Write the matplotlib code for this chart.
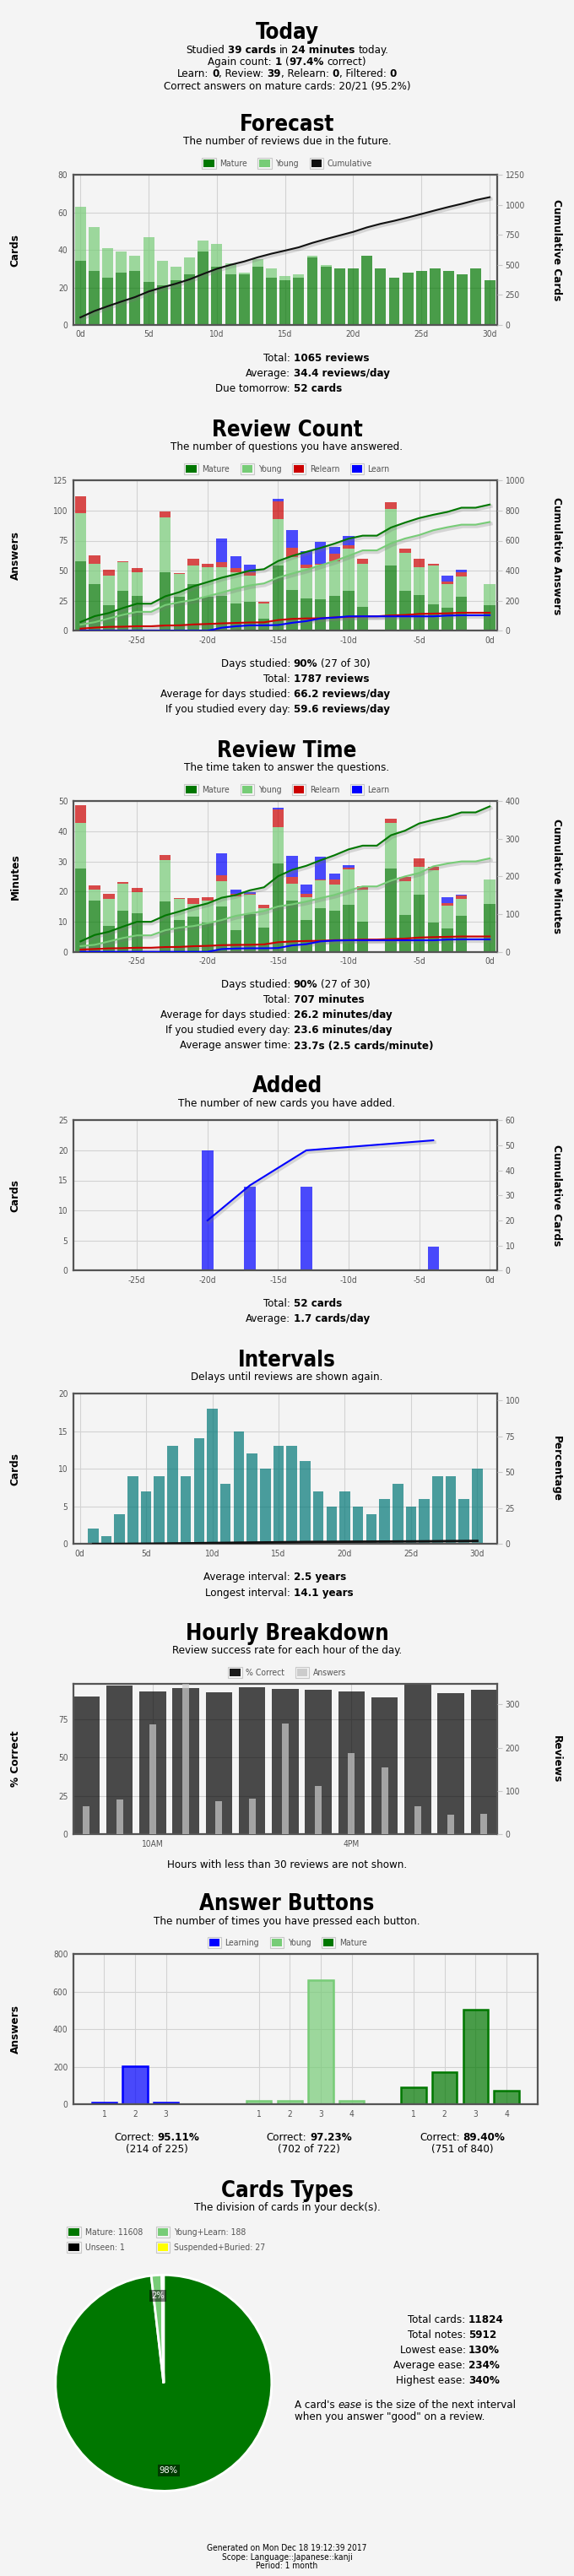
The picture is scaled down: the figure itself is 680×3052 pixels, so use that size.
import matplotlib
matplotlib.use('Agg')
import matplotlib.pyplot as plt
import matplotlib.patheffects as pe
from matplotlib.font_manager import FontProperties
from matplotlib.patches import Rectangle
from matplotlib.colors import to_rgba
import numpy as np

plt.rcParams['font.family'] = ['DejaVu Sans']
plt.rcParams['font.stretch'] = 'condensed'

# ---------------- data ----------------
# Forecast (days ahead)
fc_days = np.arange(0, 31)
fc_mature = [34, 29, 25, 28, 29, 23, 21, 24, 27, 39, 31, 27, 27, 31, 25, 24,
             25, 36, 31, 30, 30, 37, 30, 25, 28, 29, 30, 29, 27, 30, 24]
fc_young = [29, 23, 16, 11, 8, 24, 13, 7, 9, 6, 12, 6, 1, 4, 5, 2,
            2, 1, 1, 0, 0, 0, 0, 0, 0, 0, 0, 0, 0, 0, 0]

# Review count (days ago)
rc_days = np.arange(-29, 1)
rc_mature = [58, 39, 21, 33, 29, 0, 49, 28, 39, 28, 29, 23, 24, 10, 54,
             34, 27, 26, 29, 33, 20, 0, 54, 33, 30, 22, 19, 28, 0, 21]
rc_young = [40, 17, 25, 24, 20, 0, 45, 19, 15, 25, 24, 26, 22, 13, 39,
            27, 25, 29, 29, 35, 36, 0, 47, 32, 23, 32, 20, 17, 0, 18]
rc_relearn = [14, 7, 5, 1, 3, 0, 5, 1, 6, 3, 4, 3, 3, 1, 15,
              8, 3, 1, 6, 3, 4, 0, 6, 3, 7, 2, 2, 4, 0, 0]
rc_learn = [0, 0, 0, 0, 0, 0, 0, 0, 0, 0, 20, 10, 6, 0, 2,
            15, 11, 18, 6, 8, 0, 0, 0, 0, 0, 0, 5, 2, 0, 0]

# Review time in minutes (days ago)
rt_mature = [27.6, 17.1, 8.6, 13.6, 12.9, 0, 16.8, 10.6, 11.8, 9.6, 15.0, 7.2, 12.6, 8.0, 29.4,
             17.1, 10.6, 14.5, 13.6, 15.6, 9.9, 0, 27.6, 12.2, 19.1, 9.6, 7.8, 12.0, 0, 15.9]
rt_young = [15.1, 3.5, 9.0, 9.1, 7.0, 0, 13.6, 7.0, 4.1, 7.5, 8.4, 11.3, 6.4, 6.5, 12.0,
            5.6, 7.4, 9.1, 8.6, 11.8, 10.7, 0, 15.3, 11.3, 9.2, 17.5, 7.6, 5.6, 0, 8.1]
rt_relearn = [6.0, 1.5, 1.7, 0.5, 1.2, 0, 1.8, 0.3, 1.9, 0.9, 1.9, 0.7, 0.3, 1.0, 5.8,
              2.1, 1.2, 0.4, 1.7, 0.5, 1.2, 0, 1.3, 1.3, 2.7, 1.1, 0.8, 1.0, 0, 0]
rt_learn = [0, 0, 0, 0, 0, 0, 0, 0, 0, 0, 7.4, 1.4, 0.6, 0, 0.7,
            7.1, 3.1, 7.5, 2.1, 0.8, 0, 0, 0, 0, 0, 0, 1.8, 0.5, 0, 0]

# Added
ad_days = [-20, -17, -13, -4]
ad_cards = [20, 14, 14, 4]

# Intervals
iv_days = np.arange(1, 31)
iv_cards = [2, 1, 4, 9, 7, 9, 13, 9, 14, 18, 8, 15, 12, 10, 13,
            13, 11, 7, 5, 7, 5, 4, 6, 8, 5, 6, 9, 9, 6, 10]

# Hourly breakdown
hr_hours = np.arange(8, 21)
hr_pct = [89.8, 96.6, 92.8, 95.0, 92.6, 95.5, 94.4, 94.1, 92.8, 89.3, 97.9, 91.7, 94.1]
hr_answers = [65, 80, 253, 347, 76, 82, 256, 112, 188, 155, 65, 45, 48]

# Answer buttons
ab_learning = [11, 204, 10]
ab_young = [20, 19, 663, 20]
ab_mature = [89, 173, 503, 75]

# Card types
ct_labels = ['Mature', 'Young+Learn', 'Unseen', 'Suspended+Buried']
ct_values = [11608, 188, 1, 27]

# ---------------- style ----------------
W, H = 680, 3052
BG = '#f4f4f4'
AXC = '#545454'
C_MATURE = '#007700'
C_YOUNG = '#77cc77'
C_RELEARN = '#cc0000'
C_LEARN = '#0000ff'
C_IVL = '#007777'
C_HOUR = '#cccccc'
ct_colors = [C_MATURE, C_YOUNG, '#000000', '#ffff00']

fig = plt.figure(figsize=(W / 100, H / 100), dpi=100, facecolor=BG)
R = fig.canvas.get_renderer()


def fp(size=9.5, weight='normal', style='normal', stretch='condensed'):
    return FontProperties(family='DejaVu Sans', size=size, weight=weight,
                          style=style, stretch=stretch)


def tw(s, prop):
    if not s:
        return 0.0
    a = R.get_text_width_height_descent(s + '|', prop, ismath=False)[0]
    b = R.get_text_width_height_descent('|', prop, ismath=False)[0]
    return a - b


def put(x, y, s, prop, color='black', ha='left', va='baseline', rot=0):
    return fig.text(x / W, 1 - y / H, s, fontproperties=prop, color=color,
                    ha=ha, va=va, rotation=rot)


def rich(x, y, parts, size=9.5, ha='center', color='black'):
    props = []
    for s, kind in parts:
        props.append(fp(size, 'bold' if 'b' in kind else 'normal',
                        'italic' if 'i' in kind else 'normal'))
    widths = [tw(p[0], pr) for p, pr in zip(parts, props)]
    total = sum(widths)
    x0 = {'center': x - total / 2, 'right': x - total, 'left': x}[ha]
    base = y + 0.36 * size * 100 / 72
    for (s, kind), pr, w in zip(parts, props, widths):
        lead = len(s) - len(s.lstrip(' '))
        put(x0 + tw(' ' * lead, pr), base, s.strip(' '), pr, color)
        x0 += w


def title(y, text, sub_y, sub):
    put(340, y + 0.36 * 18.5 * 100 / 72, text, fp(18.5, 'bold'), ha='center')
    rich(340, sub_y, [(sub, '')])


def stats(y0, rows, cx=344.0, step=18.0):
    for i, (label, val) in enumerate(rows):
        y = y0 + i * step
        rich(cx, y, [(label, '')], ha='right')
        rich(cx + 3.5, y, val, ha='left')


def box(x, yc, w, h, face, edge='none', lw=0):
    fig.add_artist(Rectangle((x / W, 1 - (yc + h / 2) / H), w / W, h / H,
                             transform=fig.transFigure, facecolor=face,
                             edgecolor=edge, linewidth=lw))


def swatch(x, yc, color):
    box(x, yc, 16.5, 13.5, 'none', '#c8c8c8', 0.8)
    box(x + 2, yc, 12.5, 9.5, color)


def legend(yc, items, xc=340.0):
    prop = fp(7.5)
    widths = [16.5 + 4.5 + tw(lbl, prop) for lbl, c in items]
    total = sum(widths) + 12.5 * (len(items) - 1)
    x = xc - total / 2
    for (lbl, c), w in zip(items, widths):
        swatch(x, yc, c)
        put(x + 21, yc + 0.36 * 7.5 * 100 / 72, lbl, prop, AXC)
        x += w + 12.5


def make_axes(top, bottom, left=86.7, right=589.0):
    ax = fig.add_axes([left / W, 1 - bottom / H, (right - left) / W, (bottom - top) / H])
    ax.set_facecolor('none')
    for s in ax.spines.values():
        s.set_color(AXC)
        s.set_linewidth(1.6)
    ax.grid(True, color='#d2d2d2', lw=0.8)
    ax.set_axisbelow(True)
    ax.tick_params(length=0, labelcolor=AXC, labelsize=7.3, pad=4.5)
    return ax


def twin(ax, ylim, ticks):
    a2 = ax.twinx()
    a2.set_ylim(ylim)
    a2.set_yticks(ticks)
    a2.tick_params(axis='y', length=4, width=0.8, color='#c8c8c8',
                   labelcolor=AXC, labelsize=7.3, pad=3)
    for s in a2.spines.values():
        s.set_visible(False)
    return a2


def ylabels(top, bottom, left_text, right_text=None):
    yc = (top + bottom) / 2
    prop = fp(8.7, 'bold', stretch='normal')
    put(18, yc, left_text, prop, ha='center', va='center', rot=90)
    if right_text:
        put(659, yc, right_text, prop, ha='center', va='center', rot=270)


SH = [pe.SimpleLineShadow(offset=(1, -1.5), shadow_color='#777777', alpha=0.25, linewidth=3),
      pe.Normal()]

# ---------------- Today ----------------
put(340, 36.7 + 0.36 * 18.5 * 100 / 72, 'Today', fp(18.5, 'bold'), ha='center')
rich(340, 58.7, [('Studied ', ''), ('39 cards', 'b'), (' in ', ''), ('24 minutes', 'b'), (' today.', '')])
rich(340, 72.7, [('Again count: ', ''), ('1', 'b'), (' (', ''), ('97.4%', 'b'), (' correct)', '')])
rich(340, 86.7, [('Learn: ', ''), ('0', 'b'), (', Review: ', ''), ('39', 'b'),
                 (', Relearn: ', ''), ('0', 'b'), (', Filtered: ', ''), ('0', 'b')])
rich(340, 100.7, [('Correct answers on mature cards: 20/21 (95.2%)', '')])

# ---------------- Forecast ----------------
title(145.7, 'Forecast', 166.7, 'The number of reviews due in the future.')
legend(193.3, [('Mature', C_MATURE), ('Young', C_YOUNG), ('Cumulative', '#111111')])
top, bot = 207.3, 385.0
ax = make_axes(top, bot)
ax.bar(fc_days, fc_mature, 0.8, color=C_MATURE, alpha=0.7, lw=0)
ax.bar(fc_days, fc_young, 0.8, bottom=fc_mature, color=C_YOUNG, alpha=0.7, lw=0)
ax.set_xlim(-0.53, 30.55)
ax.set_ylim(0, 80)
ax.set_yticks(range(0, 81, 20))
ax.set_xticks(range(0, 31, 5))
ax.set_xticklabels([f'{d}d' for d in range(0, 31, 5)])
a2 = twin(ax, (0, 1250), range(0, 1251, 250))
fc_total = np.array(fc_mature) + np.array(fc_young)
a2.plot(fc_days, np.cumsum(fc_total), color='#111111', lw=1.5, path_effects=SH)
ylabels(top, bot, 'Cards', 'Cumulative Cards')
stats(423.3, [('Total:', [('1065 reviews', 'b')]),
              ('Average:', [('34.4 reviews/day', 'b')]),
              ('Due tomorrow:', [('52 cards', 'b')])], step=18.2)


def stacked_history(top, bot, series, ylim, yticks, y2lim, y2ticks, l1, l2):
    ax = make_axes(top, bot)
    bottom = np.zeros(len(rc_days))
    for vals, c in series:
        ax.bar(rc_days, vals, 0.8, bottom=bottom, color=c, alpha=0.7, lw=0)
        bottom = bottom + np.array(vals)
    ax.set_xlim(-29.52, 0.53)
    ax.set_ylim(ylim)
    ax.set_yticks(yticks)
    ax.set_xticks(range(-25, 1, 5))
    ax.set_xticklabels([f'{d}d' for d in range(-25, 1, 5)])
    a2 = twin(ax, y2lim, y2ticks)
    for vals, c in series:
        a2.plot(rc_days, np.cumsum(vals), color=c, lw=1.5, path_effects=SH)
    ylabels(top, bot, l1, l2)
    return ax


hist_legend = [('Mature', C_MATURE), ('Young', C_YOUNG), ('Relearn', C_RELEARN), ('Learn', C_LEARN)]

# ---------------- Review Count ----------------
title(507.3, 'Review Count', 528.7, 'The number of questions you have answered.')
legend(555.7, hist_legend)
stacked_history(569.3, 747.3,
                [(rc_mature, C_MATURE), (rc_young, C_YOUNG), (rc_relearn, C_RELEARN), (rc_learn, C_LEARN)],
                (0, 125), range(0, 126, 25), (0, 1000), range(0, 1001, 200),
                'Answers', 'Cumulative Answers')
stats(785.7, [('Days studied:', [('90%', 'b'), (' (27 of 30)', '')]),
              ('Total:', [('1787 reviews', 'b')]),
              ('Average for days studied:', [('66.2 reviews/day', 'b')]),
              ('If you studied every day:', [('59.6 reviews/day', 'b')])])

# ---------------- Review Time ----------------
title(887.3, 'Review Time', 908.7, 'The time taken to answer the questions.')
legend(935.7, hist_legend)
stacked_history(949.3, 1127.7,
                [(rt_mature, C_MATURE), (rt_young, C_YOUNG), (rt_relearn, C_RELEARN), (rt_learn, C_LEARN)],
                (0, 50), range(0, 51, 10), (0, 400), range(0, 401, 100),
                'Minutes', 'Cumulative Minutes')
stats(1165.7, [('Days studied:', [('90%', 'b'), (' (27 of 30)', '')]),
               ('Total:', [('707 minutes', 'b')]),
               ('Average for days studied:', [('26.2 minutes/day', 'b')]),
               ('If you studied every day:', [('23.6 minutes/day', 'b')]),
               ('Average answer time:', [('23.7s (2.5 cards/minute)', 'b')])])

# ---------------- Added ----------------
title(1285.0, 'Added', 1306.7, 'The number of new cards you have added.')
top, bot = 1327.3, 1505.3
ax = make_axes(top, bot)
ax.bar(ad_days, ad_cards, 0.8, color=C_LEARN, alpha=0.7, lw=0)
ax.set_xlim(-29.52, 0.53)
ax.set_ylim(0, 25)
ax.set_yticks(range(0, 26, 5))
ax.set_xticks(range(-25, 1, 5))
ax.set_xticklabels([f'{d}d' for d in range(-25, 1, 5)])
a2 = twin(ax, (0, 60), range(0, 61, 10))
a2.plot(ad_days, np.cumsum(ad_cards), color=C_LEARN, lw=1.5, path_effects=SH)
ylabels(top, bot, 'Cards', 'Cumulative Cards')
stats(1543.7, [('Total:', [('52 cards', 'b')]),
               ('Average:', [('1.7 cards/day', 'b')])])

# ---------------- Intervals ----------------
title(1609.3, 'Intervals', 1630.7, 'Delays until reviews are shown again.')
top, bot = 1651.0, 1829.3
ax = make_axes(top, bot)
ax.bar(iv_days, iv_cards, 0.8, color=C_IVL, alpha=0.7, lw=0)
ax.set_xlim(-0.5, 31.5)
ax.set_ylim(0, 20)
ax.set_yticks(range(0, 21, 5))
ax.set_xticks(range(0, 31, 5))
ax.set_xticklabels([f'{d}d' for d in range(0, 31, 5)])
a2 = twin(ax, (0, 105), range(0, 101, 25))
reviewed = ct_values[0] + ct_values[1]
a2.plot(iv_days, np.cumsum(iv_cards) / reviewed * 100, color='#111111', lw=2, path_effects=SH)
ylabels(top, bot, 'Cards', 'Percentage')
stats(1867.7, [('Average interval:', [('2.5 years', 'b')]),
               ('Longest interval:', [('14.1 years', 'b')])], step=18.3)

# ---------------- Hourly Breakdown ----------------
title(1933.3, 'Hourly Breakdown', 1954.7, 'Review success rate for each hour of the day.')
legend(1981.3, [('% Correct', '#1a1a1a'), ('Answers', C_HOUR)])
top, bot = 1995.0, 2173.3
ax = make_axes(top, bot)
ax.bar(hr_hours, hr_pct, 0.8, color='#000000', alpha=0.7, lw=0)
ax.set_xlim(7.6, 20.4)
ax.set_ylim(0, max(hr_pct))
ax.set_yticks([0, 25, 50, 75])
ax.set_xticks([10, 16])
ax.set_xticklabels(['10AM', '4PM'])
a2 = twin(ax, (0, max(hr_answers)), [0, 100, 200, 300])
a2.bar(hr_hours, hr_answers, 0.2, color=C_HOUR, alpha=0.7, lw=0)
ylabels(top, bot, '% Correct', 'Reviews')
rich(340, 2208.7, [('Hours with less than 30 reviews are not shown.', '')])

# ---------------- Answer Buttons ----------------
title(2253.3, 'Answer Buttons', 2275.0, 'The number of times you have pressed each button.')
legend(2301.7, [('Learning', C_LEARN), ('Young', C_YOUNG), ('Mature', C_MATURE)])
top, bot = 2315.0, 2493.3
ax = make_axes(top, bot, right=636.6)
groups = [(ab_learning, C_LEARN, 0), (ab_young, C_YOUNG, 5), (ab_mature, C_MATURE, 10)]
xt, xl = [], []
for vals, c, off in groups:
    xs = np.arange(1, len(vals) + 1) + off
    ax.bar(xs, vals, 0.8, facecolor=to_rgba(c, 0.7), edgecolor=c, lw=1.8)
    xt += list(xs)
    xl += [str(i) for i in range(1, len(vals) + 1)]
ax.set_xlim(0, 15)
ax.set_ylim(0, 800)
ax.set_yticks(range(0, 801, 200))
ax.set_xticks(xt)
ax.set_xticklabels(xl)
ylabels(top, bot, 'Answers')
for (vals, c, off), cx in zip(groups, [185.6, 366.4, 547.8]):
    tot = sum(vals)
    ok = tot - vals[0]
    rich(cx, 2531.7, [('Correct: ', ''), (f'{ok / tot * 100:.2f}%', 'b')])
    rich(cx, 2545.7, [(f'({ok} of {tot})', '')])

# ---------------- Cards Types ----------------
title(2593.3, 'Cards Types', 2614.3, 'The division of cards in your deck(s).')
lprop = fp(7.5)
for i, (lbl, v, c) in enumerate(zip(ct_labels, ct_values, ct_colors)):
    x = [79.4, 184.7][i % 2]
    y = [2644.3, 2662.3][i // 2]
    swatch(x, y, c)
    put(x + 21.5, y + 0.36 * 7.5 * 100 / 72, f'{lbl}: {v}', lprop, AXC)

pcx, pcy, pr = 193.8, 2823.3, 128.0
m = 1.03
pax = fig.add_axes([(pcx - pr * m) / W, 1 - (pcy + pr * m) / H, 2 * pr * m / W, 2 * pr * m / H])
pax.pie(ct_values, colors=ct_colors, startangle=90, counterclock=False, radius=1,
        wedgeprops=dict(edgecolor='white', linewidth=2))
pax.set_xlim(-m, m)
pax.set_ylim(-m, m)
pax.set_aspect('equal')
pax.axis('off')
total_cards = sum(ct_values)
acc = 0.0
for v in ct_values:
    frac = v / total_cards
    if round(frac * 100) >= 1:
        ang = np.deg2rad(90 - 360 * (acc + frac / 2))
        pax.text(0.81 * np.cos(ang), 0.81 * np.sin(ang), f'{round(frac * 100)}%',
                 color='white', ha='center', va='center', fontproperties=fp(8),
                 bbox=dict(facecolor='black', alpha=0.5, edgecolor='none', pad=1.5))
    acc += frac

stats(2747.7, [('Total cards:', [(str(total_cards), 'b')]),
               ('Total notes:', [('5912', 'b')]),
               ('Lowest ease:', [('130%', 'b')]),
               ('Average ease:', [('234%', 'b')]),
               ('Highest ease:', [('340%', 'b')])], cx=551.6)
rich(349, 2848.7, [("A card's ", ''), ('ease', 'i'), (' is the size of the next interval', '')], ha='left')
rich(349, 2862.7, [('when you answer "good" on a review.', '')], ha='left')

# ---------------- footer ----------------
for y, s in zip([3018.7, 3028.9, 3038.9],
                ['Generated on Mon Dec 18 19:12:39 2017',
                 'Scope: Language::Japanese::kanji',
                 'Period: 1 month']):
    rich(340, y, [(s, '')], size=7.3)

fig.savefig('out.png', dpi=100, facecolor=BG)
